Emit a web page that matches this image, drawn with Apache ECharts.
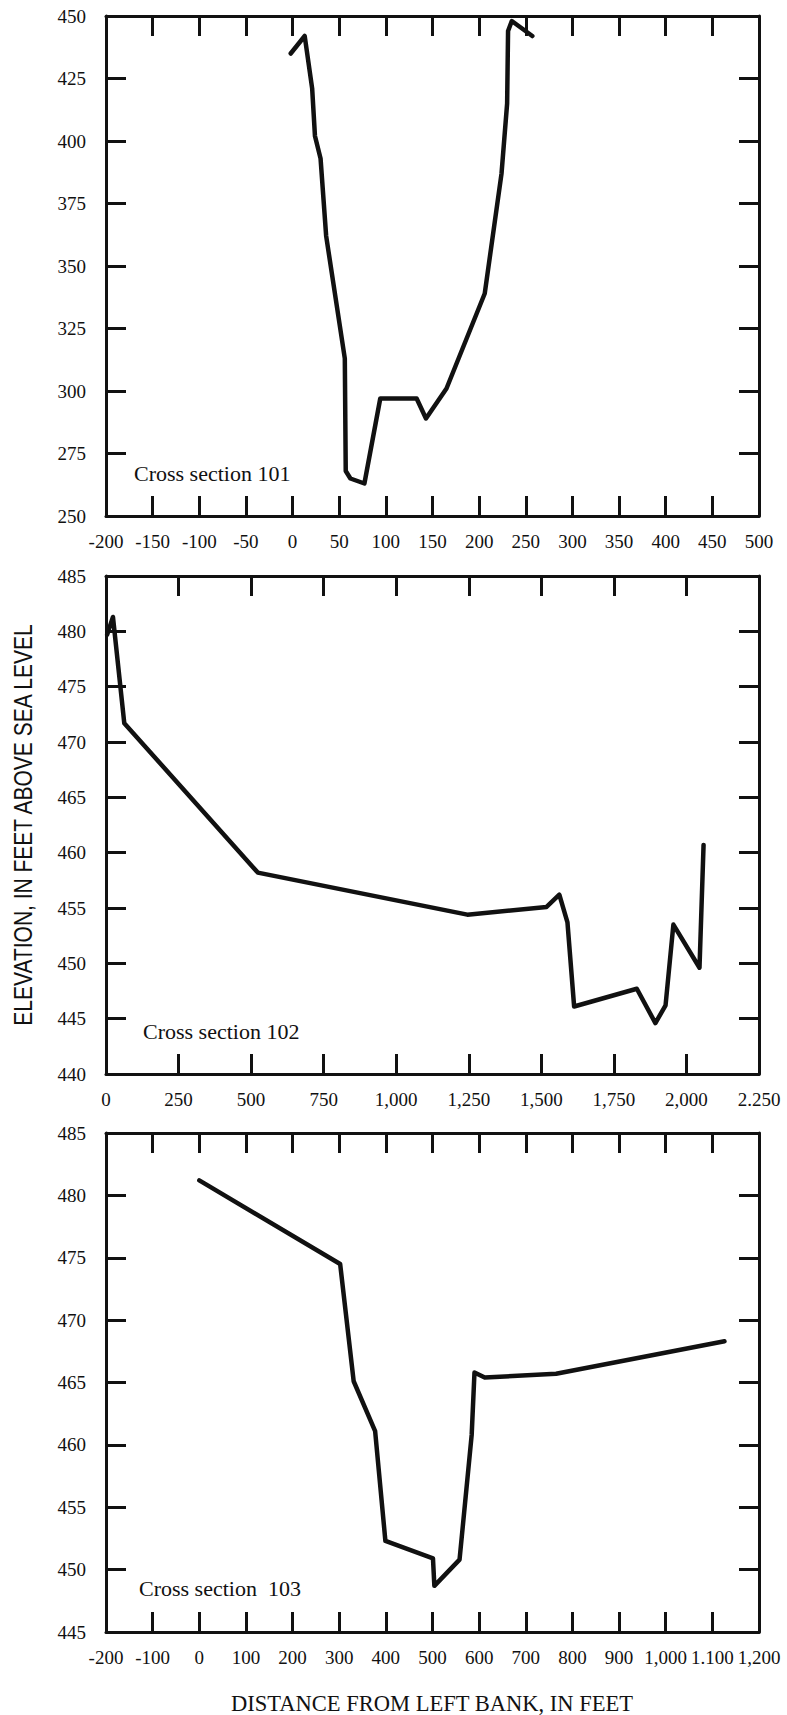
<!DOCTYPE html>
<html>
<head>
<meta charset="utf-8">
<style>
  html, body { margin: 0; padding: 0; background: #fff; }
  #chart { width: 787px; height: 1715px; }
</style>
<script src="https://cdn.jsdelivr.net/npm/echarts@6/dist/echarts.min.js"></script>
</head>
<body>
<div id="chart"></div>
<script>
// ---- Data ----
// Cross section 101: [distance from left bank (ft), elevation (ft)]
const section101 = [
  [-2, 435], [13, 442], [21, 421], [24, 402], [30, 393], [36, 362],
  [56, 313], [57, 268], [62, 265], [77, 263], [94, 297], [133, 297],
  [143, 289], [165, 301], [206, 339], [224, 387], [230, 415], [231, 444],
  [235, 448], [257, 442]
];
// Cross section 102
const section102 = [
  [4, 479.7], [24, 481.3], [63, 471.7], [523, 458.2], [1245, 454.4],
  [1518, 455.1], [1562, 456.2], [1590, 453.7], [1613, 446.1], [1829, 447.7],
  [1893, 444.6], [1928, 446.2], [1955, 453.5], [2045, 449.6], [2059, 460.7]
];
// Cross section 103
const section103 = [
  [0, 481.2], [302, 474.5], [331, 465.1], [377, 461.1], [399, 452.3],
  [501, 450.9], [504, 448.7], [558, 450.8], [584, 460.8], [590, 465.8],
  [612, 465.4], [765, 465.7], [1126, 468.3]
];

// Tick labels (as printed on the original figure)
const x101Ticks = [-200, -150, -100, -50, 0, 50, 100, 150, 200, 250, 300, 350, 400, 450, 500];
const x101Labels = ['-200', '-150', '-100', '-50', '0', '50', '100', '150', '200', '250', '300', '350', '400', '450', '500'];
const y101Ticks = [250, 275, 300, 325, 350, 375, 400, 425, 450];
const y101Labels = ['250', '275', '300', '325', '350', '375', '400', '425', '450'];

const x102Ticks = [0, 250, 500, 750, 1000, 1250, 1500, 1750, 2000, 2250];
const x102Labels = ['0', '250', '500', '750', '1,000', '1,250', '1,500', '1,750', '2,000', '2.250'];
const y102Ticks = [440, 445, 450, 455, 460, 465, 470, 475, 480, 485];
const y102Labels = ['440', '445', '450', '455', '460', '465', '470', '475', '480', '485'];

const x103Ticks = [-200, -100, 0, 100, 200, 300, 400, 500, 600, 700, 800, 900, 1000, 1100, 1200];
const x103Labels = ['-200', '-100', '0', '100', '200', '300', '400', '500', '600', '700', '800', '900', '1,000', '1.100', '1,200'];
const y103Ticks = [445, 450, 455, 460, 465, 470, 475, 480, 485];
const y103Labels = ['445', '450', '455', '460', '465', '470', '475', '480', '485'];

const sectionNames = ['Cross section 101', 'Cross section 102', 'Cross section  103'];
const yAxisTitle = 'ELEVATION, IN FEET ABOVE SEA LEVEL';
const xAxisTitle = 'DISTANCE FROM LEFT BANK, IN FEET';

// ---- Layout / style ----
const SERIF = '"Liberation Serif", "DejaVu Serif", serif';
const SANS = '"Liberation Sans", Arial, sans-serif';
const BLACK = '#111';

const panels = [
  { data: section101, xt: x101Ticks, xl: x101Labels, yt: y101Ticks, yl: y101Labels, top: 16, height: 500 },
  { data: section102, xt: x102Ticks, xl: x102Labels, yt: y102Ticks, yl: y102Labels, top: 576, height: 498 },
  { data: section103, xt: x103Ticks, xl: x103Labels, yt: y103Ticks, yl: y103Labels, top: 1133, height: 499 }
];

function lookup(ticks, labels) {
  return function (v) {
    for (let i = 0; i < ticks.length; i++) {
      if (Math.abs(ticks[i] - v) < 1e-6) return labels[i];
    }
    return '';
  };
}

const grids = [], xAxes = [], yAxes = [], series = [];
panels.forEach(function (p, i) {
  grids.push({ left: 106, width: 653, top: p.top, height: p.height, containLabel: false });
  const xmin = p.xt[0], xmax = p.xt[p.xt.length - 1], xint = p.xt[1] - p.xt[0];
  const ymin = p.yt[0], ymax = p.yt[p.yt.length - 1], yint = p.yt[1] - p.yt[0];
  const lineStyle = { color: BLACK, width: 3 };
  const tick = { show: true, inside: true, length: 20, lineStyle: { color: BLACK, width: 3 } };
  ['bottom', 'top'].forEach(function (pos) {
    xAxes.push({
      type: 'value', gridIndex: i, position: pos, min: xmin, max: xmax, interval: xint,
      axisLine: { show: true, onZero: false, lineStyle: lineStyle },
      axisTick: tick,
      splitLine: { show: false },
      axisLabel: {
        show: pos === 'bottom', margin: 16, color: BLACK, fontFamily: SERIF, fontSize: 19,
        formatter: lookup(p.xt, p.xl), showMinLabel: true, showMaxLabel: true
      }
    });
  });
  ['left', 'right'].forEach(function (pos) {
    yAxes.push({
      type: 'value', gridIndex: i, position: pos, min: ymin, max: ymax, interval: yint,
      axisLine: { show: true, onZero: false, lineStyle: lineStyle },
      axisTick: tick,
      splitLine: { show: false },
      axisLabel: {
        show: pos === 'left', margin: 20, color: BLACK, fontFamily: SERIF, fontSize: 19,
        formatter: lookup(p.yt, p.yl), showMinLabel: true, showMaxLabel: true
      }
    });
  });
  series.push({
    type: 'line', name: sectionNames[i], xAxisIndex: i * 2, yAxisIndex: i * 2,
    data: p.data, showSymbol: false, symbol: 'none', silent: true,
    lineStyle: { color: BLACK, width: 4.5, join: 'round', cap: 'round' }
  });
});

const labelPos = [[134, 474], [143, 1032], [139, 1589]];
const graphics = sectionNames.map(function (name, i) {
  return {
    type: 'text', x: labelPos[i][0], y: labelPos[i][1], scaleX: 1.1,
    style: { text: name, fill: BLACK, font: '20px ' + SERIF, textAlign: 'left', textVerticalAlign: 'middle' }
  };
});
graphics.push({
  type: 'text', x: 23, y: 825, rotation: Math.PI / 2, scaleX: 0.84,
  style: { text: yAxisTitle, fill: BLACK, font: '25px ' + SANS, textAlign: 'center', textVerticalAlign: 'middle' }
});
graphics.push({
  type: 'text', x: 432, y: 1703, scaleX: 0.98,
  style: { text: xAxisTitle, fill: BLACK, font: '23px ' + SERIF, textAlign: 'center', textVerticalAlign: 'middle' }
});

const chart = echarts.init(document.getElementById('chart'), null, { renderer: 'svg', width: 787, height: 1715 });
chart.setOption({
  animation: false,
  backgroundColor: '#fff',
  grid: grids,
  xAxis: xAxes,
  yAxis: yAxes,
  series: series,
  graphic: graphics
});
</script>
</body>
</html>
